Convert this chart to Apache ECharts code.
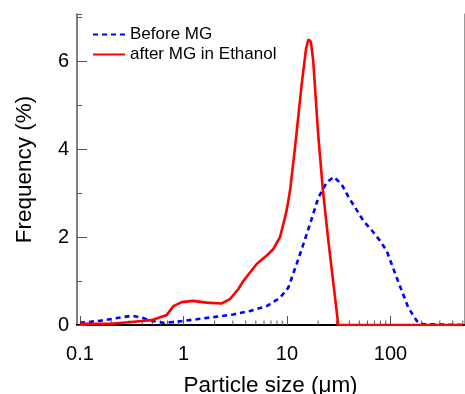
<!DOCTYPE html>
<html>
<head>
<meta charset="utf-8">
<script src="https://cdn.jsdelivr.net/npm/echarts@6/dist/echarts.min.js"></script>
<style>html,body{margin:0;padding:0;background:#fff}#c{width:465px;height:394px}</style>
</head>
<body>
<div id="c"></div>
<script>
// Data
const seriesNames = ['Before MG', 'after MG in Ethanol'];
const beforeMG = [
  [0.1,0.05],[0.112,0.06],[0.16,0.1],[0.218,0.15],[0.316,0.21],[0.395,0.17],[0.475,0.1],[0.64,0.05],
  [0.83,0.07],[1.03,0.1],[1.34,0.13],[2.25,0.2],[3.02,0.24],[4.39,0.32],[6.37,0.43],[8.56,0.62],
  [10.3,0.85],[12.4,1.39],[14.4,1.84],[16.7,2.3],[20.1,2.9],[24.2,3.25],[28.4,3.37],[33.8,3.2],
  [39.1,2.92],[45.4,2.68],[54.8,2.37],[66.2,2.15],[79.1,1.92],[91.7,1.69],[102.5,1.39],[114.7,1.08],
  [128.4,0.78],[148.9,0.39],[179.8,0.09],[201,0.02],[500,0.0]
];
const afterMG = [
  [0.1,0.03],[0.2,0.03],[0.33,0.075],[0.49,0.11],[0.69,0.23],[0.8,0.43],[0.96,0.52],[1.24,0.55],
  [1.68,0.51],[2.34,0.49],[2.81,0.59],[3.39,0.82],[3.78,1.0],[5.1,1.39],[6.37,1.58],[7.38,1.73],
  [8.56,2.0],[9.57,2.45],[10.0,2.65],[10.7,3.06],[11.9,4.0],[13.9,5.5],[15.3,6.3],[16.1,6.5],
  [17.0,6.45],[17.9,6.03],[20.0,4.35],[22.1,3.13],[25.0,1.95],[31.3,0.0],[500,0.0]
];
const xMin = 0.0936, xMax = 513;
const yMin = 0, yMax = 7.08;
const decades = [-1, 0, 1, 2];
const minorMultipliers = [2,3,4,5,6,7,8,9];

const minorTicks = [];
decades.forEach(d => minorMultipliers.forEach(k => {
  const v = k * Math.pow(10, d);
  if (v > xMin && v < xMax) minorTicks.push([v, yMin]);
}));

const FONT = 'Liberation Sans, Arial, sans-serif';
const chart = echarts.init(document.getElementById('c'), null, {renderer: 'canvas'});
chart.setOption({
  animation: false,
  backgroundColor: '#fff',
  grid: {left: 77, right: 1, top: 14, bottom: 69, containLabel: false, outerBoundsMode: 'none'},
  legend: {
    orient: 'vertical', left: 92, top: 26, padding: 0,
    itemWidth: 32, itemHeight: 12, itemGap: 3,
    data: seriesNames,
    itemStyle: {opacity: 0},
    textStyle: {fontFamily: FONT, fontSize: 17, color: '#000'}
  },
  xAxis: [{
    type: 'log', min: xMin, max: xMax, position: 'bottom',
    axisLine: {lineStyle: {color: '#555', width: 1.5}},
    axisTick: {inside: true, length: 9, lineStyle: {color: '#555', width: 1}},
    splitLine: {show: false},
    axisLabel: {fontFamily: FONT, fontSize: 20, color: '#000', margin: 19, showMinLabel: false, showMaxLabel: false},
    name: 'Particle size (\u03bcm)', nameLocation: 'middle', nameGap: 49,
    nameTextStyle: {fontFamily: FONT, fontSize: 22.5, color: '#000'}
  }, {
    type: 'value', min: 0, max: 1, position: 'top',
    axisLine: {show: true, lineStyle: {color: '#000', width: 2}},
    axisTick: {show: false}, axisLabel: {show: false}, splitLine: {show: false}
  }],
  yAxis: [{
    type: 'value', min: yMin, max: yMax, interval: 2, position: 'left',
    axisLine: {show: true, lineStyle: {color: '#555', width: 1.5}},
    axisTick: {show: true, inside: true, length: 10, lineStyle: {color: '#555', width: 1}},
    splitLine: {show: false},
    axisLabel: {fontFamily: FONT, fontSize: 20, color: '#000', margin: 8, showMaxLabel: false},
    name: 'Frequency (%)', nameLocation: 'middle', nameGap: 41,
    nameTextStyle: {fontFamily: FONT, fontSize: 22.5, color: '#000'}
  }, {
    type: 'value', min: yMin, max: yMax, interval: 1, position: 'left',
    axisLine: {show: false},
    axisTick: {show: true, inside: true, length: 5, lineStyle: {color: '#555', width: 1}},
    axisLabel: {show: false}, splitLine: {show: false}
  }, {
    type: 'value', min: 0, max: 1, position: 'right',
    axisLine: {show: true, lineStyle: {color: '#999', width: 1}},
    axisTick: {show: false}, axisLabel: {show: false}, splitLine: {show: false}
  }],
  series: [{
    name: seriesNames[0], type: 'line', data: beforeMG, symbol: 'none',
    lineStyle: {color: '#0000ff', width: 2.6, type: [5, 4]},
    itemStyle: {color: '#0000ff'}, z: 3
  }, {
    name: seriesNames[1], type: 'line', data: afterMG, symbol: 'none',
    lineStyle: {color: '#ff0000', width: 2.6},
    itemStyle: {color: '#ff0000'}, z: 4
  }, {
    name: 'minorTicks', type: 'custom', data: minorTicks, silent: true, z: 2,
    encode: {x: 0, y: 1},
    renderItem: function (params, api) {
      const p = api.coord([api.value(0), api.value(1)]);
      return {type: 'line', shape: {x1: p[0], y1: p[1], x2: p[0], y2: p[1] - 4.5},
              style: {stroke: '#555', lineWidth: 1}};
    }
  }]
});
</script>
</body>
</html>
